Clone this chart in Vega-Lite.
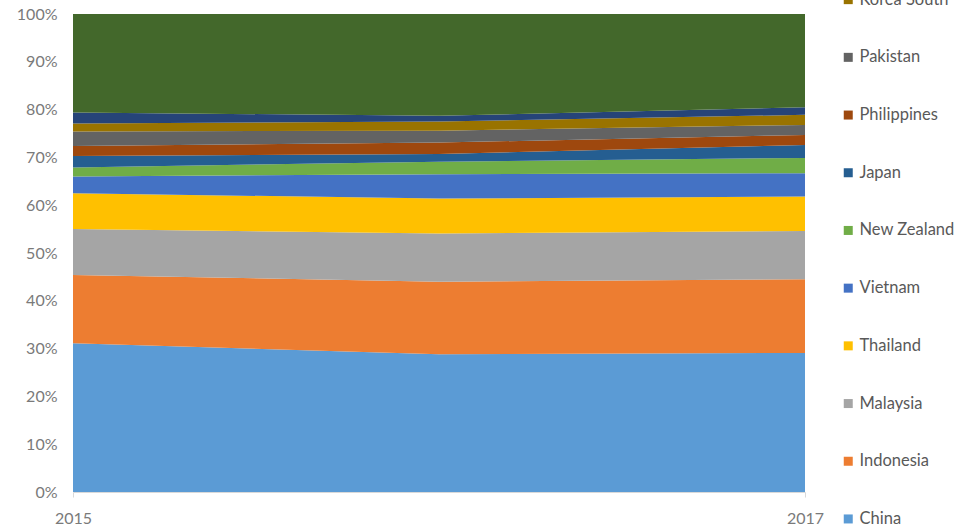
{
  "$schema": "https://vega.github.io/schema/vega-lite/v6.json",
  "width": 732,
  "height": 478,
  "autosize": {"type": "none"},
  "padding": {"left": 73, "top": 14, "right": 161, "bottom": 39},
  "background": "white",
  "config": {
    "view": {"stroke": null},
    "font": "Lato",
    "axis": {"labelFont": "Lato", "labelFontSize": 16, "labelColor": "#7a7a7a", "title": null, "grid": false}
  },
  "data": {
    "values": [
      {"year": 2015, "country": "China", "share": 31.1},
      {"year": 2015, "country": "Indonesia", "share": 14.3},
      {"year": 2015, "country": "Malaysia", "share": 9.6},
      {"year": 2015, "country": "Thailand", "share": 7.5},
      {"year": 2015, "country": "Vietnam", "share": 3.5},
      {"year": 2015, "country": "New Zealand", "share": 1.9},
      {"year": 2015, "country": "Japan", "share": 2.4},
      {"year": 2015, "country": "Philippines", "share": 2.1},
      {"year": 2015, "country": "Pakistan", "share": 3.0},
      {"year": 2015, "country": "Korea South", "share": 1.7},
      {"year": 2015, "country": "Singapore", "share": 2.3},
      {"year": 2015, "country": "Others", "share": 20.6},
      {"year": 2016, "country": "China", "share": 28.8},
      {"year": 2016, "country": "Indonesia", "share": 15.2},
      {"year": 2016, "country": "Malaysia", "share": 10.1},
      {"year": 2016, "country": "Thailand", "share": 7.3},
      {"year": 2016, "country": "Vietnam", "share": 5.1},
      {"year": 2016, "country": "New Zealand", "share": 2.6},
      {"year": 2016, "country": "Japan", "share": 1.6},
      {"year": 2016, "country": "Philippines", "share": 2.4},
      {"year": 2016, "country": "Pakistan", "share": 2.5},
      {"year": 2016, "country": "Korea South", "share": 1.9},
      {"year": 2016, "country": "Singapore", "share": 1.2},
      {"year": 2016, "country": "Others", "share": 21.3},
      {"year": 2017, "country": "China", "share": 29.1},
      {"year": 2017, "country": "Indonesia", "share": 15.4},
      {"year": 2017, "country": "Malaysia", "share": 10.1},
      {"year": 2017, "country": "Thailand", "share": 7.2},
      {"year": 2017, "country": "Vietnam", "share": 4.9},
      {"year": 2017, "country": "New Zealand", "share": 3.2},
      {"year": 2017, "country": "Japan", "share": 2.7},
      {"year": 2017, "country": "Philippines", "share": 2.1},
      {"year": 2017, "country": "Pakistan", "share": 2.1},
      {"year": 2017, "country": "Korea South", "share": 2.1},
      {"year": 2017, "country": "Singapore", "share": 1.6},
      {"year": 2017, "country": "Others", "share": 19.5}
    ]
  },
  "transform": [
    {"calculate": "indexof(['China','Indonesia','Malaysia','Thailand','Vietnam','New Zealand','Japan','Philippines','Pakistan','Korea South','Singapore','Others'], datum.country)", "as": "layer"}
  ],
  "mark": {"type": "area", "interpolate": "linear"},
  "encoding": {
    "x": {
      "field": "year",
      "type": "quantitative",
      "scale": {"domain": [2015, 2017], "nice": false, "zero": false},
      "axis": {"values": [2015, 2016, 2017], "format": "d", "domainColor": "#d9d9d9", "tickColor": "#d9d9d9", "tickSize": 5, "labelPadding": 13, "labelFlush": false}
    },
    "y": {
      "field": "share",
      "type": "quantitative",
      "stack": "normalize",
      "scale": {"domain": [0, 1]},
      "axis": {"values": [0, 0.1, 0.2, 0.3, 0.4, 0.5, 0.6, 0.7, 0.8, 0.9, 1], "format": ".0%", "ticks": false, "domain": false, "labelPadding": 16}
    },
    "order": {"field": "layer", "type": "quantitative", "sort": "ascending"},
    "color": {
      "field": "country",
      "type": "nominal",
      "scale": {
        "domain": ["Others", "Singapore", "Korea South", "Pakistan", "Philippines", "Japan", "New Zealand", "Vietnam", "Thailand", "Malaysia", "Indonesia", "China"],
        "range": ["#43682B", "#264478", "#997300", "#636363", "#9E480E", "#255E91", "#70AD47", "#4472C4", "#FFC000", "#A5A5A5", "#ED7D31", "#5B9BD5"]
      },
      "legend": {
        "orient": "none",
        "legendX": 767,
        "legendY": -138,
        "title": null,
        "padding": 0,
        "symbolType": "square",
        "symbolSize": 81,
        "symbolStrokeWidth": 0,
        "labelFont": "Lato",
        "labelFontSize": 16.5,
        "labelColor": "#595959",
        "labelOffset": 3,
        "rowPadding": 40.7,
        "labelLimit": 200
      }
    }
  }
}
